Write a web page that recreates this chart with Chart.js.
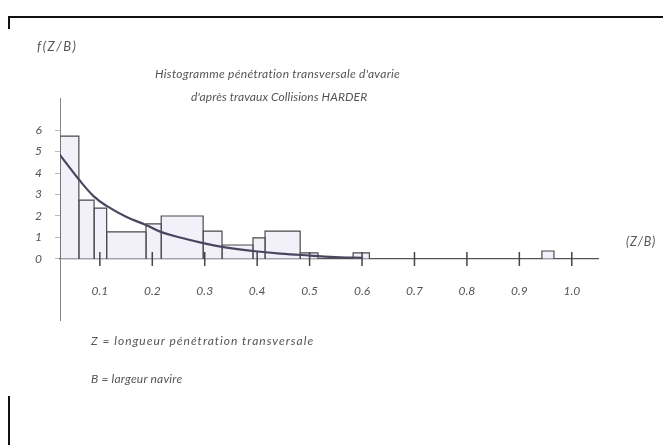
<!DOCTYPE html>
<html>
<head>
<meta charset="utf-8">
<script src="https://cdn.jsdelivr.net/npm/chart.js@4/dist/chart.umd.min.js"></script>
<style>
  html, body { margin: 0; padding: 0; background: #fff; }
  #wrap { position: relative; width: 663px; height: 445px; overflow: hidden; }
  #myChart { position: absolute; left: 0; top: 0; }
  .txt { position: absolute; font-family: Lato, "Open Sans", sans-serif; font-style: italic; color: #555; white-space: nowrap; }
  .ln { position: absolute; background: #111; }
</style>
</head>
<body>
<div id="wrap">
  <div class="ln" style="left:8px;top:16px;width:655px;height:2px;"></div>
  <div class="ln" style="left:8px;top:16px;width:2px;height:13px;"></div>
  <div class="ln" style="left:8px;top:396px;width:2px;height:49px;"></div>
  <canvas id="myChart" width="663" height="445"></canvas>
  <div class="txt" style="left:37px;top:38px;font-size:13px;letter-spacing:1.5px;">f(Z/B)</div>
  <div class="txt" style="left:155px;top:66px;font-size:12px;letter-spacing:0.3px;">Histogramme pénétration transversale d'avarie</div>
  <div class="txt" style="left:191px;top:89px;font-size:12px;letter-spacing:0.1px;">d'après travaux Collisions HARDER</div>
  <div class="txt" style="left:626px;top:234px;font-size:12.5px;letter-spacing:0.8px;">(Z/B)</div>
  <div class="txt" style="left:91px;top:333px;font-size:12px;letter-spacing:1px;">Z = longueur pénétration transversale</div>
  <div class="txt" style="left:91px;top:371px;font-size:12px;letter-spacing:0.2px;">B = largeur navire</div>
</div>
<script>
var ctx = document.getElementById("myChart").getContext("2d");

// classes de l'histogramme (Z/B)
var binStart = [0.024, 0.060, 0.089, 0.113, 0.188, 0.217, 0.297, 0.333, 0.392, 0.415, 0.482, 0.583, 0.943];
var binEnd   = [0.060, 0.089, 0.113, 0.188, 0.217, 0.297, 0.333, 0.392, 0.415, 0.482, 0.516, 0.614, 0.966];
var binHeight = [5.72, 2.74, 2.37, 1.26, 1.63, 2.0, 1.30, 0.65, 0.98, 1.30, 0.28, 0.28, 0.37];

// courbe f(Z/B)
var curveX = [0.022, 0.060, 0.089, 0.113, 0.151, 0.188, 0.216, 0.253, 0.297, 0.333, 0.392, 0.444, 0.501, 0.558, 0.602];
var curveY = [4.9, 3.7, 2.9, 2.47, 1.95, 1.58, 1.26, 1.0, 0.74, 0.56, 0.37, 0.25, 0.16, 0.08, 0.05];

var xTicks = [0.1, 0.2, 0.3, 0.4, 0.5, 0.6, 0.7, 0.8, 0.9, 1.0];
var yTicks = [0, 1, 2, 3, 4, 5, 6];

var datasets = [];

binStart.forEach(function (x0, i) {
    var x1 = binEnd[i];
    var h = binHeight[i];
    datasets.push({
        type: "line",
        order: 2,
        data: [{ x: x0, y: 0 }, { x: x0, y: h }, { x: x1, y: h }, { x: x1, y: 0 }],
        borderColor: "#4a4a4a",
        borderWidth: 1.2,
        backgroundColor: "rgba(232, 230, 244, 0.55)",
        fill: true,
        pointRadius: 0,
        tension: 0,
    });
});

datasets.push({
    type: "line",
    order: 0,
    data: curveX.map(function (x, i) {
        return { x: x, y: curveY[i] };
    }),
    borderColor: "#4b4660",
    borderWidth: 2.2,
    fill: false,
    pointRadius: 0,
    tension: 0.4,
});

// petits traits de graduation qui traversent l'axe
datasets.push({
    type: "scatter",
    order: 1,
    data: xTicks.map(function (x) {
        return { x: x, y: 0 };
    }),
    pointStyle: "line",
    rotation: 90,
    pointRadius: 7,
    borderColor: "#444",
    borderWidth: 1.5,
});

var myChart = new Chart(ctx, {
    type: "line",
    data: { datasets: datasets },
    options: {
        responsive: false,
        animation: false,
        layout: {
            padding: { left: 0, right: 65, top: 98, bottom: 125 },
        },
        plugins: {
            legend: { display: false },
            tooltip: { enabled: false },
        },
        scales: {
            x: {
                type: "linear",
                position: { y: 0 },
                min: 0.024,
                max: 1.05,
                afterBuildTicks: function (s) {
                    s.ticks = xTicks.map(function (v) { return { value: v }; });
                },
                grid: { display: false },
                border: { color: "#555", width: 1.3 },
                ticks: {
                    padding: 17,
                    color: "#555",
                    font: { family: "Lato", style: "italic", size: 12 },
                    callback: function (v) { return v.toFixed(1); },
                },
            },
            y: {
                type: "linear",
                min: -2.84,
                max: 7.49,
                afterFit: function (s) { s.width = 60; },
                afterBuildTicks: function (s) {
                    s.ticks = yTicks.map(function (v) { return { value: v }; });
                },
                grid: { drawOnChartArea: false, tickLength: 5, color: "#bbb" },
                border: { color: "#888", width: 1 },
                ticks: {
                    padding: 13,
                    color: "#555",
                    font: { family: "Lato", style: "italic", size: 12 },
                },
            },
        },
    },
});
</script>
</body>
</html>
